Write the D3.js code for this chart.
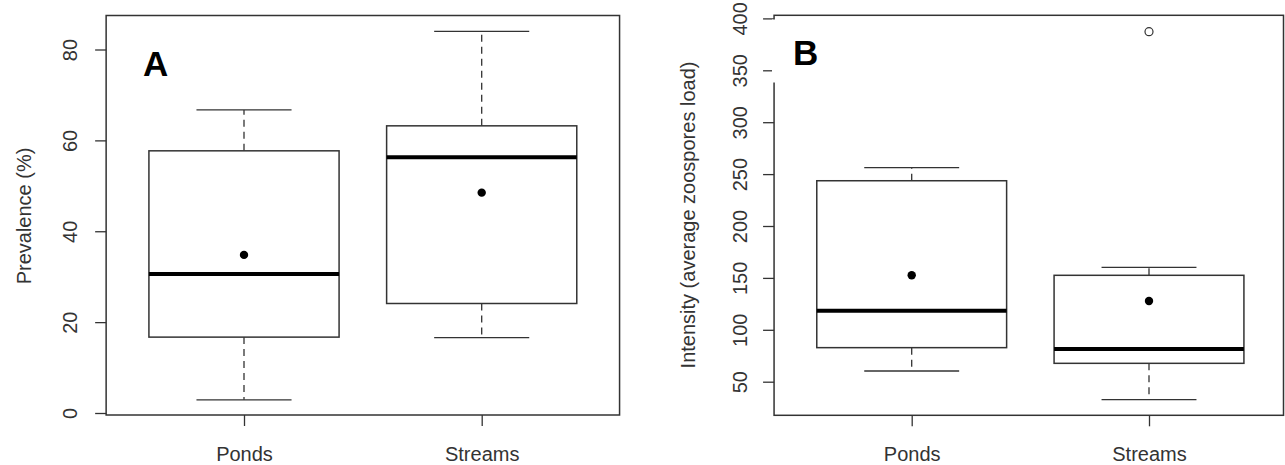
<!DOCTYPE html>
<html>
<head>
<meta charset="utf-8">
<script src="https://cdn.jsdelivr.net/npm/d3@7"></script>
<style>
  body { margin: 0; background: #fff; }
  text { font-family: "Liberation Sans", Arial, sans-serif; fill: #333; }
</style>
</head>
<body>
<svg id="chart" width="1285" height="465"></svg>
<script>
// groups on the x axis
const categories = ["Ponds", "Streams"];

// panel A: prevalence (%)
const prevLow = [2.9, 16.6];
const prevQ1 = [16.7, 24.1];
const prevMedian = [30.6, 56.3];
const prevQ3 = [57.7, 63.2];
const prevHigh = [66.7, 84.0];
const prevMean = [34.8, 48.5];
const prevOutliers = [[], []];
const prevTicks = [0, 20, 40, 60, 80];

// panel B: intensity (average zoospores load)
const intLow = [60.3, 32.7];
const intQ1 = [82.8, 67.7];
const intMedian = [118.4, 81.5];
const intQ3 = [243.6, 152.5];
const intHigh = [256.2, 160.2];
const intMean = [152.5, 127.7];
const intOutliers = [[], [387.2]];
const intTicks = [50, 100, 150, 200, 250, 300, 350, 400];

const svg = d3.select("#chart");
const W = 1285;
const stroke = "#333";

function drawPanel(opt) {
  const g = svg.append("g");
  const x = d3.scaleLinear().domain([1, 2]).range(opt.xRange);
  const y = d3.scaleLinear().domain(opt.yDomain).range(opt.yRange);

  const left = x(0.42);
  const right = Math.min(x(2.58), W - 1.5);
  const top = opt.top, bottom = opt.bottom;

  const stats = categories.map((c, i) => ({
    i: i + 1, low: opt.low[i], q1: opt.q1[i], med: opt.median[i],
    q3: opt.q3[i], high: opt.high[i], mean: opt.mean[i], out: opt.outliers[i]
  }));

  // whiskers (dashed)
  g.selectAll(".whisk").data(stats).enter().append("g").each(function (d) {
    const s = d3.select(this);
    s.append("line").attr("x1", x(d.i)).attr("x2", x(d.i))
      .attr("y1", y(d.q3)).attr("y2", y(d.high))
      .attr("stroke", stroke).attr("stroke-width", 1.3).attr("stroke-dasharray", "7,5");
    s.append("line").attr("x1", x(d.i)).attr("x2", x(d.i))
      .attr("y1", y(d.q1)).attr("y2", y(d.low))
      .attr("stroke", stroke).attr("stroke-width", 1.3).attr("stroke-dasharray", "7,5");
    // caps
    [d.high, d.low].forEach(v => {
      s.append("line").attr("x1", x(d.i - 0.2)).attr("x2", x(d.i + 0.2))
        .attr("y1", y(v)).attr("y2", y(v))
        .attr("stroke", stroke).attr("stroke-width", 1.3);
    });
    // box
    s.append("rect").attr("x", x(d.i - 0.4)).attr("width", x(d.i + 0.4) - x(d.i - 0.4))
      .attr("y", y(d.q3)).attr("height", y(d.q1) - y(d.q3))
      .attr("fill", "#fff").attr("stroke", stroke).attr("stroke-width", 1.5);
    // median
    s.append("line").attr("x1", x(d.i - 0.4)).attr("x2", x(d.i + 0.4))
      .attr("y1", y(d.med)).attr("y2", y(d.med))
      .attr("stroke", "#000").attr("stroke-width", 4);
    // mean
    s.append("circle").attr("cx", x(d.i)).attr("cy", y(d.mean)).attr("r", 4.2).attr("fill", "#000");
    // outliers
    d.out.forEach(v => {
      s.append("circle").attr("cx", x(d.i)).attr("cy", y(v)).attr("r", 4)
        .attr("fill", "none").attr("stroke", stroke).attr("stroke-width", 1.2);
    });
  });

  // frame
  g.append("rect").attr("x", left).attr("y", top)
    .attr("width", right - left).attr("height", bottom - top)
    .attr("fill", "none").attr("stroke", stroke).attr("stroke-width", 1.5);

  // y axis
  const ya = g.append("g").attr("transform", `translate(${left},0)`)
    .call(d3.axisLeft(y).tickValues(opt.ticks).tickSize(11).tickSizeOuter(0));
  ya.select(".domain").remove();
  ya.selectAll("line").attr("stroke", stroke).attr("stroke-width", 1.3);
  ya.selectAll("text").attr("x", 0).attr("dy", 0)
    .attr("transform", `translate(${-opt.tickLabelOff},0) rotate(-90)`)
    .attr("text-anchor", "middle")
    .style("font-size", "20px").style("font-family", "Liberation Sans, Arial, sans-serif").attr("fill", "#333");

  // x axis
  const xa = g.append("g").attr("transform", `translate(0,${bottom})`)
    .call(d3.axisBottom(x).tickValues([1, 2]).tickSize(11).tickSizeOuter(0)
      .tickFormat(d => categories[d - 1]));
  xa.select(".domain").remove();
  xa.selectAll("line").attr("stroke", stroke).attr("stroke-width", 1.3);
  xa.selectAll("text").attr("y", 46).attr("dy", 0)
    .style("font-size", "20px").style("font-family", "Liberation Sans, Arial, sans-serif").attr("fill", "#333");

  // y title
  g.append("text")
    .attr("transform", `translate(${opt.titleX},${opt.titleY}) rotate(-90)`)
    .attr("text-anchor", "middle").style("font-size", "20px")
    .text(opt.title);

  // white patch behind the panel letter
  if (opt.patch) {
    g.append("rect").attr("x", opt.patch[0]).attr("y", opt.patch[1])
      .attr("width", opt.patch[2]).attr("height", opt.patch[3]).attr("fill", "#fff");
  }

  g.append("text").attr("x", opt.letterX).attr("y", opt.letterY)
    .style("font-size", "35px").style("font-weight", "bold").style("fill", "#000")
    .text(opt.letter);
}

drawPanel({
  xRange: [244, 481.7], yDomain: [0, 80], yRange: [413, 49.5],
  top: 15.5, bottom: 415,
  low: prevLow, q1: prevQ1, median: prevMedian, q3: prevQ3, high: prevHigh,
  mean: prevMean, outliers: prevOutliers, ticks: prevTicks,
  tickLabelOff: 29, title: "Prevalence (%)", titleX: 30.5, titleY: 216,
  letter: "A", letterX: 143, letterY: 76
});

drawPanel({
  xRange: [911.7, 1149], yDomain: [50, 400], yRange: [381.7, 18.4],
  top: 15.3, bottom: 415.3,
  low: intLow, q1: intQ1, median: intMedian, q3: intQ3, high: intHigh,
  mean: intMean, outliers: intOutliers, ticks: intTicks,
  tickLabelOff: 27, title: "Intensity (average zoospores load)", titleX: 695, titleY: 215,
  patch: [772, 19.5, 90, 63],
  letter: "B", letterX: 793, letterY: 64.5
});
</script>
</body>
</html>
